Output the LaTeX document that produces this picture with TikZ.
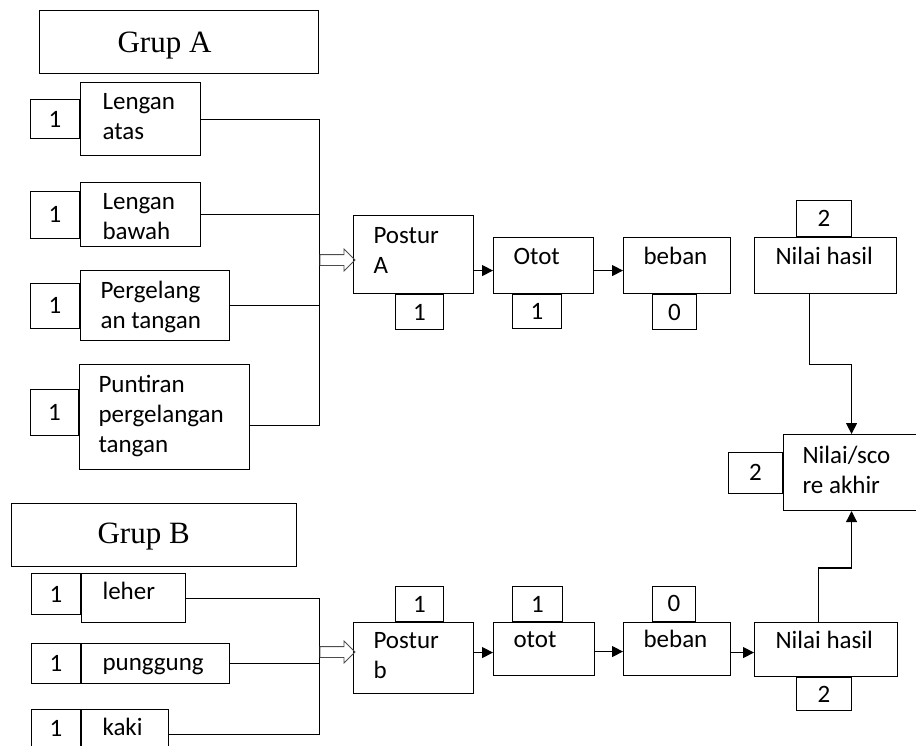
\documentclass[tikz,border=0pt]{standalone}
\usepackage{fontspec}
\setmainfont{Carlito}
\newfontfamily\grupfont{Liberation Serif}
\usetikzlibrary{positioning,arrows.meta,shapes.arrows}

\begin{document}
\begin{tikzpicture}[x=1pt, y=-1pt, line width=1.1pt,
  box/.style n args={4}{draw, anchor=north west, inner ysep=0pt, align=flush left, text width=#1pt, inner xsep=#2pt, text height=#3pt, text depth=#4pt, font=\fontsize{25}{30}\selectfont},
  grup/.style n args={4}{box={#1}{#2}{#3}{#4}, font=\grupfont\fontsize{31}{36}\selectfont},
  score/.style n args={2}{draw, inner sep=0pt, minimum width=#1pt, minimum height=#2pt, font=\fontsize{25}{30}\selectfont},
  arr/.style={-{Triangle[length=11pt, width=11pt]}},
  hollow/.style={single arrow, draw, black!70, line width=0.9pt, inner sep=0pt, inner ysep=5pt, minimum height=35pt, single arrow head extend=5.5pt, anchor=tail}]
\useasboundingbox (0,0) rectangle (916,745);

% grup A
\node[grup={123}{78}{42}{21}] (grupA) at (39,10) {Grup A};
\node[box={76}{22}{27}{46}] (atas) at (80,82) {Lengan\\atas};
\node[box={76}{22}{27}{37}] (bawah) at (80,182) {Lengan\\bawah};
\node[box={109}{20}{28}{42}] (gelang) at (80,270) {Pergelang\\an tangan};
\node[box={132}{19}{28}{77}] (puntir) at (79,364) {Puntiran\\pergelangan\\tangan};
\node[score={49}{39}] (sAtas) [left=0pt of atas.west] {1};
\node[score={49}{47}] (sBawah) [left=0pt of bawah.west] {1};
\node[score={49}{45}] (sGelang) [left=0pt of gelang.west] {1};
\node[score={48}{46}] (sPuntir) [left=0pt of puntir.west, yshift=4.5pt] {1};

\node[box={80}{20}{28}{50}] (postA) at (353,215) {Postur\\A};
\node[box={60}{20}{27}{29}] (ototA) at (493,237) {Otot};
\node[box={67}{20}{27}{29}] (bebanA) at (623,237) {beban};
\node[box={100}{21}{27}{29}] (hasilA) at (754,237) {Nilai hasil};
\node[score={48}{35}] (sPostA) [below=0pt of postA.south, xshift=6pt] {1};
\node[score={49}{34}] (sOtotA) [below=0pt of ototA.south, xshift=-6.5pt] {1};
\node[score={44}{35}] (sBebanA) [below=0pt of bebanA.south, xshift=-2.5pt] {0};
\node[score={55}{36}] (sHasilA) [above=0pt of hasilA.north, xshift=-1.5pt] {2};

% nilai akhir
\node[box={98}{19}{29}{47}] (akhir) at (783,434) {Nilai/sco\\re akhir};
\node[score={54}{41}] (sAkhir) [left=0pt of akhir.west] {2};

% grup B
\node[grup={113}{86}{40}{23}] (grupB) at (11,503) {Grup B};
\node[box={62}{21}{26}{23}] (leher) at (81,573) {leher};
\node[box={106}{21}{27}{13}] (punggung) at (81,643) {punggung};
\node[box={45}{21}{26}{24}] (kaki) at (81,709) {kaki};
\node[score={49}{41}, anchor=north east] (sLeher) at (leher.north west) {1};
\node[score={49}{40}, anchor=north east] (sPunggung) at (punggung.north west) {1};
\node[score={49}{38}, anchor=north east] (sKaki) at (kaki.north west) {1};

\node[box={80}{20}{26}{45}] (postB) at (353,622) {Postur\\b};
\node[box={61}{20}{25}{28}] (ototB) at (493,622) {otot};
\node[box={67}{20}{25}{28}] (bebanB) at (623,622) {beban};
\node[box={101}{21}{26}{28}] (hasilB) at (754,622) {Nilai hasil};
\node[score={48}{35}] (sPostB) [above=0pt of postB.north, xshift=6pt] {1};
\node[score={50}{35}] (sOtotB) [above=0pt of ototB.north, xshift=-6.5pt] {1};
\node[score={43}{35}] (sBebanB) [above=0pt of bebanB.north, xshift=-3pt] {0};
\node[score={55}{33}] (sHasilB) [below=0pt of hasilB.south, xshift=-2pt] {2};

% lines
\coordinate (busA) at (319.5,0);
\coordinate (busB) at (319.5,0);
\draw (atas.east) -- (atas.east -| busA) -- ([yshift=-8.5pt]puntir.east -| busA) -- ([yshift=-8.5pt]puntir.east);
\draw (bawah.east) -- (bawah.east -| busA);
\draw (gelang.east) -- (gelang.east -| busA);
\draw (leher.east) -- (leher.east -| busB) -- (kaki.east -| busB) -- (kaki.east);
\draw (punggung.east) -- (punggung.east -| busB);
\node[hollow] (inA) at (319.5,260) {};
\node[hollow] (inB) at (319.5,652) {};

\draw[arr] ([yshift=-5pt]ototA.west -| postA.east) -- ([yshift=-5pt]ototA.west);
\draw[arr] ([yshift=-5pt]bebanA.west -| ototA.east) -- ([yshift=-5pt]bebanA.west);
\draw[arr] ([yshift=-3.5pt]ototB.west -| postB.east) -- ([yshift=-3.5pt]ototB.west);
\draw[arr] ([yshift=-2.5pt]bebanB.west -| ototB.east) -- ([yshift=-2.5pt]bebanB.west);
\draw[arr] ([yshift=-3pt]hasilB.west -| bebanB.east) -- ([yshift=-3pt]hasilB.west);
\draw[arr] ([xshift=-16pt]hasilA.south) -- ++(0,70) -| (akhir.north);
\draw[arr] ([xshift=-7.5pt]hasilB.north) -- ++(0,-54) -| (akhir.south);
\end{tikzpicture}
\end{document}
